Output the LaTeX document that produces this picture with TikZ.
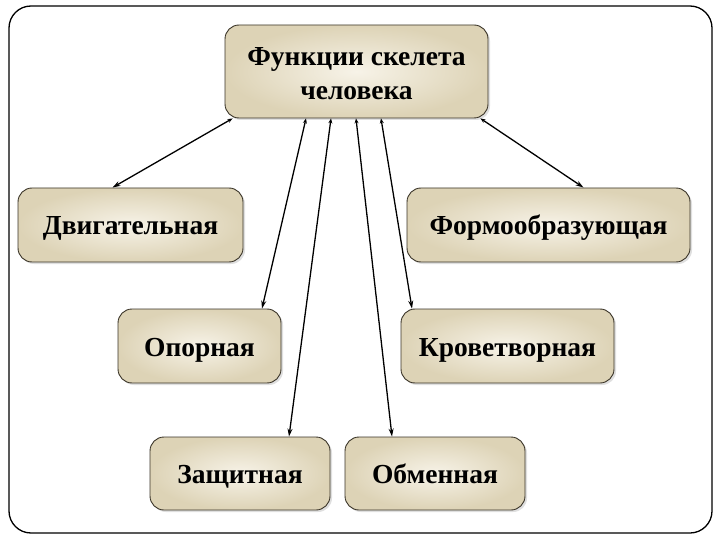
\documentclass[tikz,border=0pt]{standalone}
\usepackage{fontspec}
\setmainfont{Liberation Serif}
\usetikzlibrary{arrows.meta,shadows}
\definecolor{cajaborde}{HTML}{3A3428}
\definecolor{cajafondo}{HTML}{DDD3B6}
\definecolor{cajacentro}{HTML}{F7F3E8}
\tikzset{
    funcion/.style={draw=cajaborde,line width=0.9pt,rounded corners=14pt,
        inner color=cajacentro,outer color=cajafondo,
        drop shadow={shadow xshift=2pt,shadow yshift=-2pt,opacity=0.25},
        font=\bfseries\fontsize{27.5}{34}\selectfont,align=center,
        text height=21pt,text depth=1pt},
    flecha/.style={line width=1.3pt,{Stealth[length=5pt,width=4pt]}-{Stealth[length=8pt,width=5pt]}}
}
\begin{document}
\begin{tikzpicture}[x=1pt,y=-1pt]
    \useasboundingbox (0,0) rectangle (720,540);
    %Marco
    \draw[line width=1.3pt,rounded corners=22pt] (9,6) rectangle (712,533);

    %Cajas
    \node[funcion,minimum width=263pt,minimum height=93pt,text height=58pt] (top) at (356.5,71.5) {Функции скелета\\человека};
    \node[funcion,minimum width=225pt,minimum height=74pt] (dvig) at (130.5,225) {Двигательная};
    \node[funcion,minimum width=283pt,minimum height=74pt] (form) at (548.5,225) {Формообразующая};
    \node[funcion,minimum width=163pt,minimum height=74pt] (opor) at (199.5,346) {Опорная};
    \node[funcion,minimum width=213pt,minimum height=74pt] (krov) at (507.5,346) {Кроветворная};
    \node[funcion,minimum width=180pt,minimum height=73pt] (zash) at (240,473.5) {Защитная};
    \node[funcion,minimum width=180pt,minimum height=73pt] (obmen) at (435,473.5) {Обменная};

    %Flechas
    \draw[flecha] ([xshift=8pt]top.south west) -- ([xshift=-18pt]dvig.north);
    \draw[flecha] ([xshift=-8pt]top.south east) -- ([xshift=35pt]form.north);
    \draw[flecha] ([xshift=-50.5pt]top.south) -- ([xshift=62.5pt]opor.north);
    \draw[flecha] ([xshift=-25.5pt]top.south) -- ([xshift=49pt]zash.north);
    \draw[flecha] ([xshift=-0.5pt]top.south) -- ([xshift=-43pt]obmen.north);
    \draw[flecha] ([xshift=24.5pt]top.south) -- ([xshift=-95.5pt]krov.north);
\end{tikzpicture}
\end{document}
